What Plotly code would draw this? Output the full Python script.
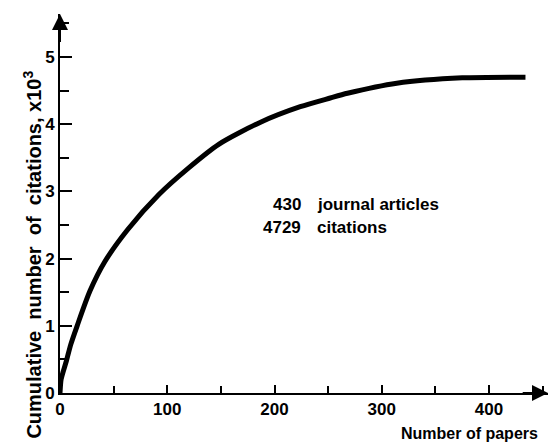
import plotly.graph_objects as go

papers = [0, 1, 3, 6, 10, 16, 28, 42, 63, 92, 120, 148, 187, 224, 252, 268, 314, 375, 434]
citations_k = [0, 0.2, 0.32, 0.48, 0.72, 1.0, 1.52, 1.96, 2.43, 2.95, 3.35, 3.70, 4.03, 4.26, 4.39, 4.46, 4.61, 4.69, 4.70]

x_ticks = [0, 100, 200, 300, 400]
y_ticks = [0, 1, 2, 3, 4, 5]
X_MAX = 455
Y_MAX = 5.64

FONT = "Liberation Sans"
fig = go.Figure()
fig.add_trace(go.Scatter(x=papers, y=citations_k, mode="lines",
                         line=dict(color="black", width=5, shape="spline", smoothing=0.7),
                         hoverinfo="skip", showlegend=False))

fig.update_layout(
    width=549, height=443,
    margin=dict(l=60, r=1, t=14, b=50, autoexpand=False),
    plot_bgcolor="white", paper_bgcolor="white",
    font=dict(family=FONT, size=15, color="black", weight="bold"),
    xaxis=dict(range=[0, X_MAX], showgrid=False, zeroline=False, automargin=False,
               showline=True, linecolor="black", linewidth=2,
               tickvals=x_ticks, ticktext=[str(v) for v in x_ticks],
               ticks="inside", ticklen=8, tickwidth=2, tickcolor="black",
               minor=dict(dtick=50, tick0=0, ticks="inside", ticklen=7, tickwidth=2, tickcolor="black"),
               tickfont=dict(family=FONT, size=17, weight="bold")),
    yaxis=dict(range=[0, Y_MAX], showgrid=False, zeroline=False, automargin=False,
               showline=True, linecolor="black", linewidth=2,
               tickvals=y_ticks, ticktext=[str(v) for v in y_ticks],
               ticks="inside", ticklen=12, tickwidth=2, tickcolor="black",
               minor=dict(dtick=0.5, tick0=0, ticks="inside", ticklen=9, tickwidth=2, tickcolor="black"),
               tickfont=dict(family=FONT, size=17, weight="bold")),
)

# arrowheads on axes
fig.add_annotation(x=X_MAX, y=0, ax=X_MAX - 25, ay=0, xref="x", yref="y", axref="x", ayref="y",
                   showarrow=True, arrowhead=2, arrowsize=1.6, arrowwidth=2, arrowcolor="black", text="")
fig.add_annotation(x=0, y=Y_MAX, ax=0, ay=Y_MAX - 0.44, xref="x", yref="y", axref="x", ayref="y",
                   showarrow=True, arrowhead=2, arrowsize=1.6, arrowwidth=2, arrowcolor="black", text="")

# text block
fig.add_annotation(x=226.5, y=2.81, xref="x", yref="y", text="430", showarrow=False,
                   xanchor="right", font=dict(size=17))
fig.add_annotation(x=237.6, y=2.81, xref="x", yref="y", text="journal articles", showarrow=False,
                   xanchor="left", font=dict(size=17))
fig.add_annotation(x=226.5, y=2.47, xref="x", yref="y", text="4729", showarrow=False,
                   xanchor="right", font=dict(size=17))
fig.add_annotation(x=237.6, y=2.47, xref="x", yref="y", text="citations", showarrow=False,
                   xanchor="left", font=dict(size=17))

# axis titles
fig.add_annotation(x=-0.088, y=0.364, xref="paper", yref="paper", textangle=-90,
                   text="Cumulative  number  of  citations, x10<sup>3</sup>", showarrow=False,
                   font=dict(size=20))
fig.add_annotation(x=0.984, y=-0.106, xref="paper", yref="paper", text="Number of papers", showarrow=False,
                   xanchor="right", yanchor="middle", font=dict(size=16))

fig.write_html("out.html", config={"displayModeBar": False},
               post_script="document.body.style.margin='0';document.body.style.padding='0';")
